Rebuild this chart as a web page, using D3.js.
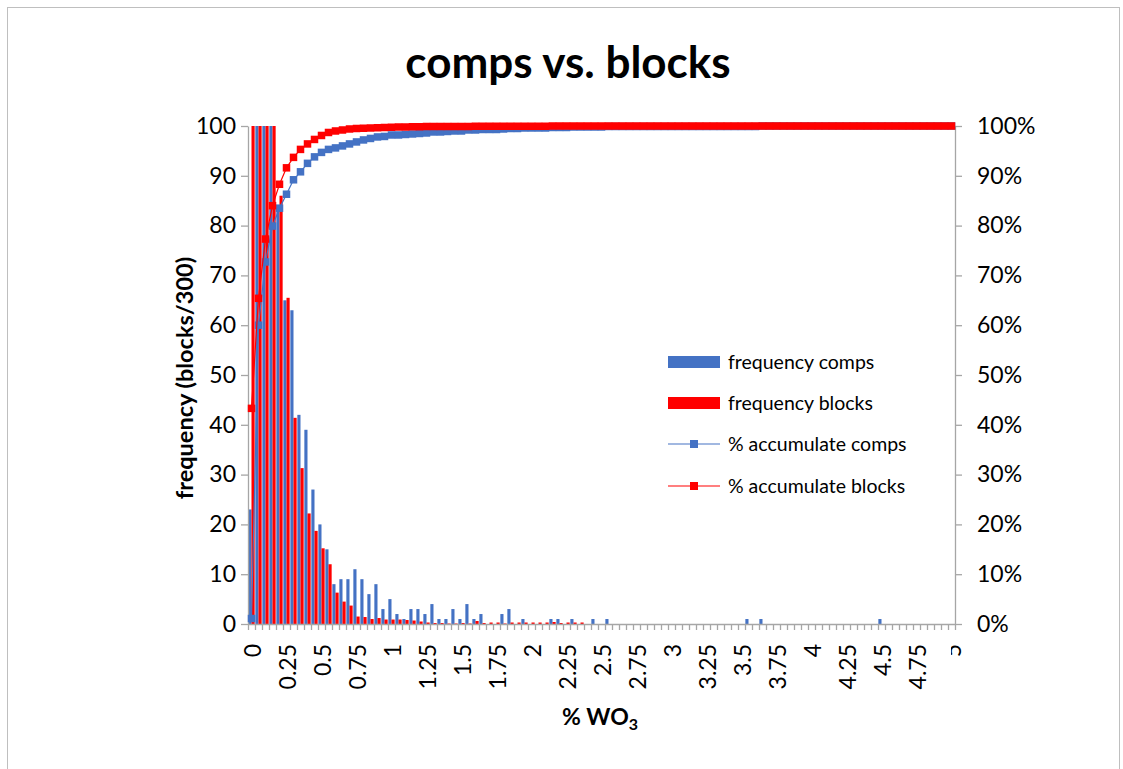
<!DOCTYPE html>
<html>
<head>
<meta charset="utf-8">
<script src="https://cdn.jsdelivr.net/npm/d3@7"></script>
<style>
  body { margin: 0; background: #fff; }
  svg { display: block; }
  text { font-family: Lato, "Liberation Sans", sans-serif; fill: #000; }
</style>
</head>
<body>
<svg id="chart" width="1123" height="769"></svg>
<script>
// % WO3 grade classes (bin size 0.05)
const categories = [
  0, 0.05, 0.1, 0.15, 0.2, 0.25, 0.3, 0.35, 0.4, 0.45,
  0.5, 0.55, 0.6, 0.65, 0.7, 0.75, 0.8, 0.85, 0.9, 0.95,
  1, 1.05, 1.1, 1.15, 1.2, 1.25, 1.3, 1.35, 1.4, 1.45,
  1.5, 1.55, 1.6, 1.65, 1.7, 1.75, 1.8, 1.85, 1.9, 1.95,
  2, 2.05, 2.1, 2.15, 2.2, 2.25, 2.3, 2.35, 2.4, 2.45,
  2.5, 2.55, 2.6, 2.65, 2.7, 2.75, 2.8, 2.85, 2.9, 2.95,
  3, 3.05, 3.1, 3.15, 3.2, 3.25, 3.3, 3.35, 3.4, 3.45,
  3.5, 3.55, 3.6, 3.65, 3.7, 3.75, 3.8, 3.85, 3.9, 3.95,
  4, 4.05, 4.1, 4.15, 4.2, 4.25, 4.3, 4.35, 4.4, 4.45,
  4.5, 4.55, 4.6, 4.65, 4.7, 4.75, 4.8, 4.85, 4.9, 4.95,
  5
];

// labelled classes on the x axis
const tickLabels = ["0", "0.25", "0.5", "0.75", "1", "1.25", "1.5", "1.75", "2", "2.25",
  "2.5", "2.75", "3", "3.25", "3.5", "3.75", "4", "4.25", "4.5", "4.75", "5"];

// frequency of composites per class
const freqComps = [
  23, 1378, 297, 168, 84, 65, 63, 42, 39, 27,
  20, 15, 8, 9, 9, 11, 9, 6, 8, 3,
  5, 2, 1, 3, 3, 2, 4, 1, 1, 3,
  1, 4, 1, 2, 0, 0, 2, 3, 0, 1,
  0, 0, 0, 1, 1, 0, 1, 0, 0, 1,
  0, 1, 0, 0, 0, 0, 0, 0, 0, 0,
  0, 0, 0, 0, 0, 0, 0, 0, 0, 0,
  0, 1, 0, 1, 0, 0, 0, 0, 0, 0,
  0, 0, 0, 0, 0, 0, 0, 0, 0, 0,
  1, 0, 0, 0, 0, 0, 0, 0, 0, 0,
  0
];

// frequency of blocks per class (blocks / 300)
const freqBlocks = [
  866, 442, 238, 134, 86, 65.5, 41.4, 31.3, 22.2, 18.7,
  15.2, 12, 6.3, 4.5, 3.7, 1.5, 1.4, 1.0, 1.2, 0.9,
  0.9, 0.9, 0.8, 0.7, 0.5, 0.3, 0.2, 0.2, 0.1, 0.1,
  0.2, 0.1, 0.6, 0.2, 0.3, 0.3, 0.1, 0.3, 0.3, 0.3,
  0.3, 0.3, 0.3, 0.4, 0.2, 0.3, 0.3, 0.3, 0, 0,
  0, 0, 0, 0, 0, 0, 0, 0, 0, 0,
  0, 0, 0, 0, 0, 0, 0, 0, 0, 0,
  0, 0, 0, 0, 0, 0, 0, 0, 0, 0,
  0, 0, 0, 0, 0, 0, 0, 0, 0, 0,
  0, 0, 0, 0, 0, 0, 0, 0, 0, 0,
  0
];

// % accumulate, composites
const cumComps = [
  1.1, 60.0, 72.7, 79.9, 83.5, 86.3, 89.2, 90.8, 92.5, 93.8,
  94.7, 95.3, 95.6, 96.0, 96.4, 96.8, 97.2, 97.5, 97.8, 97.9,
  98.2, 98.2, 98.3, 98.4, 98.5, 98.6, 98.8, 98.8, 98.9, 99.0,
  99.0, 99.2, 99.2, 99.3, 99.3, 99.3, 99.4, 99.5, 99.5, 99.6,
  99.6, 99.6, 99.6, 99.7, 99.7, 99.7, 99.8, 99.8, 99.8, 99.8,
  99.8, 99.9, 99.9, 99.9, 99.9, 99.9, 99.9, 99.9, 99.9, 99.9,
  99.9, 99.9, 99.9, 99.9, 99.9, 99.9, 99.9, 99.9, 99.9, 99.9,
  99.9, 99.9, 99.9, 100, 100, 100, 100, 100, 100, 100,
  100, 100, 100, 100, 100, 100, 100, 100, 100, 100,
  100, 100, 100, 100, 100, 100, 100, 100, 100, 100,
  100
];

// % accumulate, blocks
const cumBlocks = [
  43.3, 65.4, 77.3, 84.0, 88.3, 91.6, 93.7, 95.3, 96.4, 97.3,
  98.1, 98.7, 99.0, 99.2, 99.4, 99.5, 99.55, 99.6, 99.65, 99.7,
  99.75, 99.8, 99.8, 99.85, 99.85, 99.9, 99.9, 99.9, 99.9, 99.9,
  99.9, 99.9, 99.95, 99.95, 99.95, 99.95, 99.95, 99.95, 99.95, 99.95,
  99.95, 99.95, 99.95, 100, 100, 100, 100, 100, 100, 100,
  100, 100, 100, 100, 100, 100, 100, 100, 100, 100,
  100, 100, 100, 100, 100, 100, 100, 100, 100, 100,
  100, 100, 100, 100, 100, 100, 100, 100, 100, 100,
  100, 100, 100, 100, 100, 100, 100, 100, 100, 100,
  100, 100, 100, 100, 100, 100, 100, 100, 100, 100,
  100
];

const yTicksLeft = [0, 10, 20, 30, 40, 50, 60, 70, 80, 90, 100];
const yTicksRight = [0, 0.1, 0.2, 0.3, 0.4, 0.5, 0.6, 0.7, 0.8, 0.9, 1];

const seriesNames = ["frequency comps", "frequency blocks", "% accumulate comps", "% accumulate blocks"];
const BLUE = "#4472C4", RED = "#FF0000", AXIS = "#A6A6A6";
const TICK_FONT = "23px";

const svg = d3.select("#chart");
const W = 1123, H = 769;
const plot = { left: 248, right: 955, top: 126, bottom: 624 };

// outer chart frame
svg.append("rect")
  .attr("x", 7.5).attr("y", 7.5)
  .attr("width", 1112).attr("height", H)
  .attr("fill", "#fff").attr("stroke", "#BFBFBF").attr("stroke-width", 1);

// scales
const idx = d3.range(categories.length);
const x = d3.scaleBand().domain(idx).range([plot.left, plot.right])
  .paddingInner(0.1).paddingOuter(0.05);
const xEdge = d3.scaleLinear().domain([0, categories.length]).range([plot.left, plot.right]);
const xSub = d3.scaleBand().domain([0, 1]).range([0, x.bandwidth()]);
const yL = d3.scaleLinear().domain([0, 100]).range([plot.bottom, plot.top]);
const yR = d3.scaleLinear().domain([0, 1]).range([plot.bottom, plot.top]);

// title
svg.append("text")
  .attr("x", 568).attr("y", 78)
  .attr("text-anchor", "middle")
  .style("font-weight", "bold").style("font-size", "44px")
  .text("comps vs. blocks");

// bars, clipped at the top of the value axis
svg.append("clipPath").attr("id", "plotClip")
  .append("rect")
  .attr("x", plot.left).attr("y", plot.top)
  .attr("width", plot.right - plot.left).attr("height", plot.bottom - plot.top);

const bars = svg.append("g").attr("clip-path", "url(#plotClip)");
bars.selectAll("rect.comps").data(idx).join("rect")
  .attr("class", "comps")
  .attr("x", i => x(i) + xSub(0))
  .attr("width", xSub.bandwidth())
  .attr("y", i => yL(freqComps[i]))
  .attr("height", i => plot.bottom - yL(freqComps[i]))
  .attr("fill", BLUE);
bars.selectAll("rect.blocks").data(idx).join("rect")
  .attr("class", "blocks")
  .attr("x", i => x(i) + xSub(1))
  .attr("width", xSub.bandwidth())
  .attr("y", i => yL(freqBlocks[i]))
  .attr("height", i => plot.bottom - yL(freqBlocks[i]))
  .attr("fill", RED);

// axes
function styleAxis(g) {
  g.select(".domain").attr("stroke", AXIS).attr("stroke-width", 1.3);
  g.selectAll(".tick line").attr("stroke", AXIS).attr("stroke-width", 1.3);
  g.selectAll("text").style("font-size", TICK_FONT).style("font-family", "Lato, 'Liberation Sans', sans-serif");
}

const gLeft = svg.append("g")
  .attr("transform", `translate(${plot.left},0)`)
  .call(d3.axisLeft(yL).tickValues(yTicksLeft).tickSize(7).tickSizeOuter(0).tickPadding(5));
styleAxis(gLeft);

const gRight = svg.append("g")
  .attr("transform", `translate(${plot.right},0)`)
  .call(d3.axisRight(yR).tickValues(yTicksRight).tickSize(7).tickSizeOuter(0).tickPadding(15)
    .tickFormat(d3.format(".0%")));
styleAxis(gRight);

// category boundary ticks
const gBottom = svg.append("g")
  .attr("transform", `translate(0,${plot.bottom})`)
  .call(d3.axisBottom(xEdge).tickValues(d3.range(categories.length + 1)).tickSize(6).tickSizeOuter(0).tickFormat(""));
styleAxis(gBottom);

// rotated class labels; the last one is cut by the chart's right edge
svg.append("clipPath").attr("id", "lastLabelClip")
  .append("rect").attr("x", 951).attr("y", 0).attr("width", 100).attr("height", H);
const labelled = idx.filter(i => tickLabels.includes(String(categories[i])));
svg.append("g").selectAll("g").data(labelled).join("g")
  .attr("clip-path", i => i === categories.length - 1 ? "url(#lastLabelClip)" : null)
  .append("text")
  .attr("transform", i => `translate(${x(i) + x.bandwidth() / 2 + 1.5},${plot.bottom + 20}) rotate(-90)`)
  .attr("text-anchor", "end")
  .attr("dy", "0.35em")
  .style("font-size", TICK_FONT)
  .text(i => tickLabels[tickLabels.indexOf(String(categories[i]))]);

// axis titles
svg.append("text")
  .attr("transform", `translate(193,378) rotate(-90)`)
  .attr("text-anchor", "middle")
  .style("font-weight", "bold").style("font-size", "23.5px")
  .text("frequency (blocks/300)");

const xt = svg.append("text")
  .attr("x", 600).attr("y", 725)
  .attr("text-anchor", "middle")
  .style("font-weight", "bold").style("font-size", "23px");
xt.append("tspan").text("% WO");
xt.append("tspan").attr("dy", 5).style("font-size", "16px").text("3");

// cumulative curves with square markers
function cumSeries(values, color) {
  const g = svg.append("g");
  const line = d3.line().x(i => x(i) + x.bandwidth() / 2).y(i => yR(values[i] / 100));
  g.append("path").datum(idx).attr("d", line)
    .attr("fill", "none").attr("stroke", color).attr("stroke-width", 1.2);
  const s = 7.5;
  g.selectAll("rect").data(idx).join("rect")
    .attr("x", i => x(i) + x.bandwidth() / 2 - s / 2)
    .attr("y", i => yR(values[i] / 100) - s / 2)
    .attr("width", s).attr("height", s)
    .attr("fill", color);
}
cumSeries(cumComps, BLUE);
cumSeries(cumBlocks, RED);

// legend
const legend = svg.append("g");
const legendRows = [
  { name: seriesNames[0], color: BLUE, type: "bar", y: 362 },
  { name: seriesNames[1], color: RED, type: "bar", y: 403 },
  { name: seriesNames[2], color: BLUE, type: "line", y: 444 },
  { name: seriesNames[3], color: RED, type: "line", y: 486 }
];
legendRows.forEach(r => {
  if (r.type === "bar") {
    legend.append("rect").attr("x", 668).attr("y", r.y - 6).attr("width", 52).attr("height", 12).attr("fill", r.color);
  } else {
    legend.append("line").attr("x1", 668).attr("x2", 720).attr("y1", r.y).attr("y2", r.y)
      .attr("stroke", r.color).attr("stroke-width", 1.2);
    legend.append("rect").attr("x", 690).attr("y", r.y - 4).attr("width", 8).attr("height", 8).attr("fill", r.color);
  }
  legend.append("text").attr("x", 728).attr("y", r.y).attr("dy", "0.35em")
    .style("font-size", "19.5px").text(r.name);
});
</script>
</body>
</html>
